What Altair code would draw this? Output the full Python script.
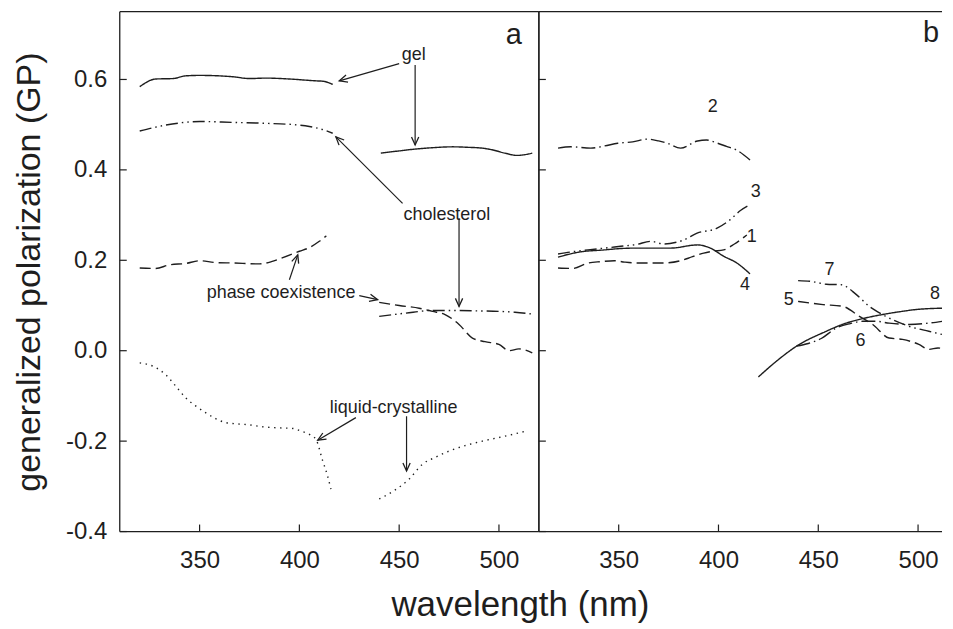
import math
import altair as alt
import pandas as pd

FONT = "Liberation Sans"
INK = "#1e1e1e"

# ---------------- panel a ----------------
GEL1_WL = [320, 328, 336.7, 343, 350, 366.7, 375, 383, 395, 408, 412, 416.7]
GEL1_GP = [0.584, 0.601, 0.602, 0.608, 0.609, 0.606, 0.602, 0.603, 0.601, 0.597, 0.596, 0.589]
GEL2_WL = [440.8, 450, 458, 466.7, 476.7, 484, 491.7, 497, 503, 509, 516.7]
GEL2_GP = [0.437, 0.442, 0.446, 0.449, 0.451, 0.450, 0.448, 0.444, 0.437, 0.432, 0.437]
CHOL1_WL = [320, 333, 350, 366.7, 383, 400, 405, 411, 416.7]
CHOL1_GP = [0.486, 0.499, 0.507, 0.505, 0.503, 0.499, 0.496, 0.490, 0.481]
CHOL2_WL = [440, 453, 466.7, 480, 490, 500, 508, 516.7]
CHOL2_GP = [0.076, 0.083, 0.089, 0.089, 0.088, 0.087, 0.085, 0.081]
PHASE1_WL = [320, 328, 335, 343, 350, 358, 366.7, 380, 386, 391.7, 400, 405, 410, 413.5]
PHASE1_GP = [0.183, 0.182, 0.190, 0.193, 0.199, 0.195, 0.194, 0.192, 0.197, 0.206, 0.220, 0.228, 0.242, 0.254]
PHASE2_WL = [440, 450, 460, 466.7, 473, 480, 486.7, 493, 500, 505, 510, 516.7]
PHASE2_GP = [0.107, 0.100, 0.094, 0.087, 0.080, 0.058, 0.028, 0.020, 0.014, 0.0, 0.004, -0.005]
LC1_WL = [320, 327, 333, 338, 343, 348, 353, 358, 363, 369, 375, 381, 386.7, 392, 396.7, 401, 405, 408.3, 411.7, 414, 415.8]
LC1_GP = [-0.027, -0.035, -0.053, -0.078, -0.104, -0.122, -0.137, -0.150, -0.159, -0.162, -0.164, -0.168,
          -0.170, -0.171, -0.172, -0.178, -0.185, -0.196, -0.244, -0.275, -0.306]
LC2_WL = [440, 448, 455, 461.7, 468, 475, 483, 491.7, 500, 507, 513.3]
LC2_GP = [-0.328, -0.308, -0.284, -0.251, -0.236, -0.222, -0.210, -0.200, -0.192, -0.185, -0.178]

# ---------------- panel b ----------------
B1_WL = [319.6, 327, 334.6, 341, 347.8, 353, 359.4, 366, 372.7, 381, 387, 392.6, 397, 402.6, 408, 414.2]
B1_GP = [0.183, 0.182, 0.194, 0.197, 0.199, 0.196, 0.194, 0.194, 0.194, 0.199, 0.208, 0.216, 0.220, 0.223, 0.236, 0.256]
B2_WL = [319.6, 326, 336, 343, 349.5, 357, 364.4, 370, 374.3, 381, 389.5, 394, 399.5, 404, 409, 415.8]
B2_GP = [0.448, 0.451, 0.448, 0.453, 0.459, 0.462, 0.468, 0.464, 0.459, 0.448, 0.464, 0.466, 0.459, 0.452, 0.444, 0.422]
B3_WL = [319.6, 327, 334.6, 343, 351, 359, 366, 372.7, 379, 382.7, 389.3, 399.3, 405.9, 411, 415.8]
B3_GP = [0.214, 0.219, 0.223, 0.227, 0.231, 0.235, 0.242, 0.236, 0.240, 0.245, 0.260, 0.271, 0.290, 0.310, 0.323]
B4_WL = [319.6, 330, 342.9, 351, 359.4, 376, 389.5, 395.9, 402.6, 409.2, 415.8]
B4_GP = [0.207, 0.218, 0.223, 0.226, 0.227, 0.227, 0.234, 0.227, 0.209, 0.194, 0.170]
B5_WL = [439.9, 452.4, 462.3, 470.6, 477.3, 485.5, 492.2, 500.4, 505.4, 510, 512]
B5_GP = [0.109, 0.102, 0.098, 0.076, 0.058, 0.028, 0.025, 0.014, 0.003, 0.006, 0.005]
B6_WL = [439.1, 445, 451.5, 459, 466, 472.3, 478.9, 485.5, 495.5, 505.4, 512]
B6_GP = [0.010, 0.016, 0.027, 0.050, 0.060, 0.065, 0.065, 0.061, 0.058, 0.061, 0.065]
B7_WL = [439.9, 447, 454, 461.5, 469.1, 475.6, 482.2, 495.5, 505.4, 512]
B7_GP = [0.155, 0.153, 0.147, 0.146, 0.124, 0.098, 0.080, 0.054, 0.043, 0.036]
B8_WL = [420, 429.1, 439.1, 454, 462, 472.3, 482.2, 492, 498.8, 505, 512]
B8_GP = [-0.058, -0.023, 0.010, 0.043, 0.058, 0.071, 0.080, 0.087, 0.091, 0.093, 0.094]

# ---------------- annotations ----------------
ANN_TEXT = ["gel", "cholesterol", "phase coexistence", "liquid-crystalline"]
ANN_WL = [457.3, 473.9, 390.8, 447.2]
ANN_GP = [0.643, 0.290, 0.117, -0.137]
ARROW_X1 = [450, 458, 451.7, 480, 395, 430, 428.3, 453.7]
ARROW_Y1 = [0.635, 0.632, 0.326, 0.293, 0.157, 0.122, -0.148, -0.145]
ARROW_X2 = [420, 458, 418.3, 480, 399.2, 439.2, 409.2, 453.7]
ARROW_Y2 = [0.597, 0.455, 0.473, 0.098, 0.212, 0.113, -0.198, -0.266]
NUM_TEXT = ["2", "3", "1", "4", "7", "5", "8", "6"]
NUM_WL = [397.1, 418.7, 416.7, 413.3, 455.6, 435.2, 508.5, 471.1]
NUM_GP = [0.538, 0.350, 0.251, 0.146, 0.179, 0.113, 0.125, 0.021]
PANEL_TEXT = ["a", "b"]
PANEL_WL = [507.5, 506.5]
PANEL_GP = [0.698, 0.702]

X_TICKS = [350, 400, 450, 500]
Y_TICKS = [-0.4, -0.2, 0.0, 0.2, 0.4, 0.6]
X_DOMAIN_A = [310, 520]
X_DOMAIN_B = [310, 512]
Y_DOMAIN = [-0.4, 0.75]
W_A, W_B, H = 420, 404, 521

STYLES = ["solid", "dashed", "dotted", "dashdotdot", "dashdot"]
DASHES = [[1, 0], [11, 5], [1.4, 4.6], [12, 4, 1.5, 4, 1.5, 4], [14, 4, 1.5, 4]]

curves_a = [
    ("gel1", "solid", GEL1_WL, GEL1_GP), ("gel2", "solid", GEL2_WL, GEL2_GP),
    ("chol1", "dashdotdot", CHOL1_WL, CHOL1_GP), ("chol2", "dashdotdot", CHOL2_WL, CHOL2_GP),
    ("phase1", "dashed", PHASE1_WL, PHASE1_GP), ("phase2", "dashed", PHASE2_WL, PHASE2_GP),
    ("lc1", "dotted", LC1_WL, LC1_GP), ("lc2", "dotted", LC2_WL, LC2_GP),
]
curves_b = [
    ("b1", "dashed", B1_WL, B1_GP), ("b2", "dashdot", B2_WL, B2_GP),
    ("b3", "dashdotdot", B3_WL, B3_GP), ("b4", "solid", B4_WL, B4_GP),
    ("b5", "dashed", B5_WL, B5_GP), ("b6", "dashdot", B6_WL, B6_GP),
    ("b7", "dashdotdot", B7_WL, B7_GP), ("b8", "solid", B8_WL, B8_GP),
]


def curves_df(curves):
    rows = []
    for name, style, wls, gps in curves:
        for w, g in zip(wls, gps):
            rows.append({"curve": name, "style": style, "wl": w, "gp": g})
    return pd.DataFrame(rows)


def panel(curves, domain, width, first):
    xs = alt.Scale(domain=domain, nice=False, zero=False)
    ys = alt.Scale(domain=Y_DOMAIN, nice=False, zero=False)
    px_per_x = width / (domain[1] - domain[0])
    px_per_y = H / (Y_DOMAIN[1] - Y_DOMAIN[0])

    xaxis = alt.Axis(values=X_TICKS, ticks=False, domain=False, grid=False, format="d",
                     labelFont=FONT, labelFontSize=24, labelColor=INK, labelPadding=17,
                     title="wavelength (nm)" if first else None,
                     titleFont=FONT, titleFontSize=35, titleFontWeight="normal", titleColor=INK,
                     titleX=401, titleY=84, titleBaseline="alphabetic", titleAlign="center")
    if first:
        yaxis = alt.Axis(values=Y_TICKS, ticks=False, domain=False, grid=False,
                         labelExpr="datum.value < 0 ? '-' + format(-datum.value, '.1f') : format(datum.value, '.1f')",
                         labelFont=FONT, labelFontSize=24, labelColor=INK, labelPadding=13,
                         title="generalized polarization (GP)",
                         titleFont=FONT, titleFontSize=34, titleFontWeight="normal", titleColor=INK,
                         titleX=-80, titleY=H / 2, titleAngle=270, titleBaseline="alphabetic",
                         titleAlign="center")
    else:
        yaxis = None

    def X(f):
        return alt.X(f, type="quantitative", scale=xs, axis=xaxis)

    def Y(f):
        return alt.Y(f, type="quantitative", scale=ys, axis=yaxis)

    lines = alt.Chart(curves_df(curves)).mark_line(
        color=INK, strokeWidth=1.4, interpolate="monotone"
    ).encode(
        x=X("wl"), y=Y("gp"), detail="curve:N",
        strokeDash=alt.StrokeDash("style:N", scale=alt.Scale(domain=STYLES, range=DASHES), legend=None),
    )

    yt = alt.Chart(pd.DataFrame({"v": Y_TICKS})).mark_rule(color=INK, strokeWidth=1.2).encode(
        y=Y("v"), x=alt.value(0), x2=alt.value(7))
    xt = alt.Chart(pd.DataFrame({"v": X_TICKS})).mark_rule(color=INK, strokeWidth=1.2).encode(
        x=X("v"), y=alt.value(H), y2=alt.value(H - 7))

    # frame: top, bottom, left (+ right divider on panel a)
    frame = [
        alt.Chart(pd.DataFrame({"k": [0]})).mark_rule(color=INK, strokeWidth=1.3).encode(
            x=alt.value(0), x2=alt.value(width), y=alt.value(0)),
        alt.Chart(pd.DataFrame({"k": [0]})).mark_rule(color=INK, strokeWidth=1.3).encode(
            x=alt.value(0), x2=alt.value(width), y=alt.value(H)),
        alt.Chart(pd.DataFrame({"k": [0]})).mark_rule(color=INK, strokeWidth=1.3).encode(
            x=alt.value(0), y=alt.value(0), y2=alt.value(H)),
    ]
    if first:
        frame.append(alt.Chart(pd.DataFrame({"k": [0]})).mark_rule(color=INK, strokeWidth=1.3).encode(
            x=alt.value(width), y=alt.value(0), y2=alt.value(H)))

    layers = [lines, yt, xt] + frame

    idx = 0 if first else 1
    lab = alt.Chart(pd.DataFrame({"t": [PANEL_TEXT[idx]], "wl": [PANEL_WL[idx]], "gp": [PANEL_GP[idx]]})
                    ).mark_text(font=FONT, fontSize=29, color=INK, baseline="middle", align="center"
                                ).encode(x=X("wl"), y=Y("gp"), text="t:N")
    layers.append(lab)

    if first:
        ann = alt.Chart(pd.DataFrame({"t": ANN_TEXT, "wl": ANN_WL, "gp": ANN_GP})).mark_text(
            font=FONT, fontSize=18, color=INK, baseline="alphabetic", align="center"
        ).encode(x=X("wl"), y=Y("gp"), text="t:N")
        angs = []
        for x1, y1, x2, y2 in zip(ARROW_X1, ARROW_Y1, ARROW_X2, ARROW_Y2):
            dx = (x2 - x1) * px_per_x
            dy = (y2 - y1) * px_per_y
            angs.append(math.degrees(math.atan2(dx, dy)) % 360)
        adf = pd.DataFrame({"x1": ARROW_X1, "y1": ARROW_Y1, "x2": ARROW_X2, "y2": ARROW_Y2, "ang": angs})
        shafts = alt.Chart(adf).mark_rule(color=INK, strokeWidth=1.2).encode(
            x=X("x1"), y=Y("y1"), x2="x2:Q", y2="y2:Q")
        heads = alt.Chart(adf).mark_point(
            shape="M -0.45 1 L 0 0 L 0.45 1", filled=False, color=INK, strokeWidth=1.3, size=260, opacity=1
        ).encode(x=X("x2"), y=Y("y2"), angle=alt.Angle("ang:Q", scale=None))
        layers += [ann, shafts, heads]
    else:
        nums = alt.Chart(pd.DataFrame({"t": NUM_TEXT, "wl": NUM_WL, "gp": NUM_GP})).mark_text(
            font=FONT, fontSize=18, color=INK, baseline="middle", align="center"
        ).encode(x=X("wl"), y=Y("gp"), text="t:N")
        layers.append(nums)

    return alt.layer(*layers).properties(width=width, height=H)


chart = alt.hconcat(
    panel(curves_a, X_DOMAIN_A, W_A, True),
    panel(curves_b, X_DOMAIN_B, W_B, False),
    spacing=0,
    bounds="flush",
).properties(
    padding={"left": 4, "top": 2, "right": 0, "bottom": 0}
).configure_view(stroke=None)

chart.save("out.html", embed_options={"renderer": "svg", "actions": False})
